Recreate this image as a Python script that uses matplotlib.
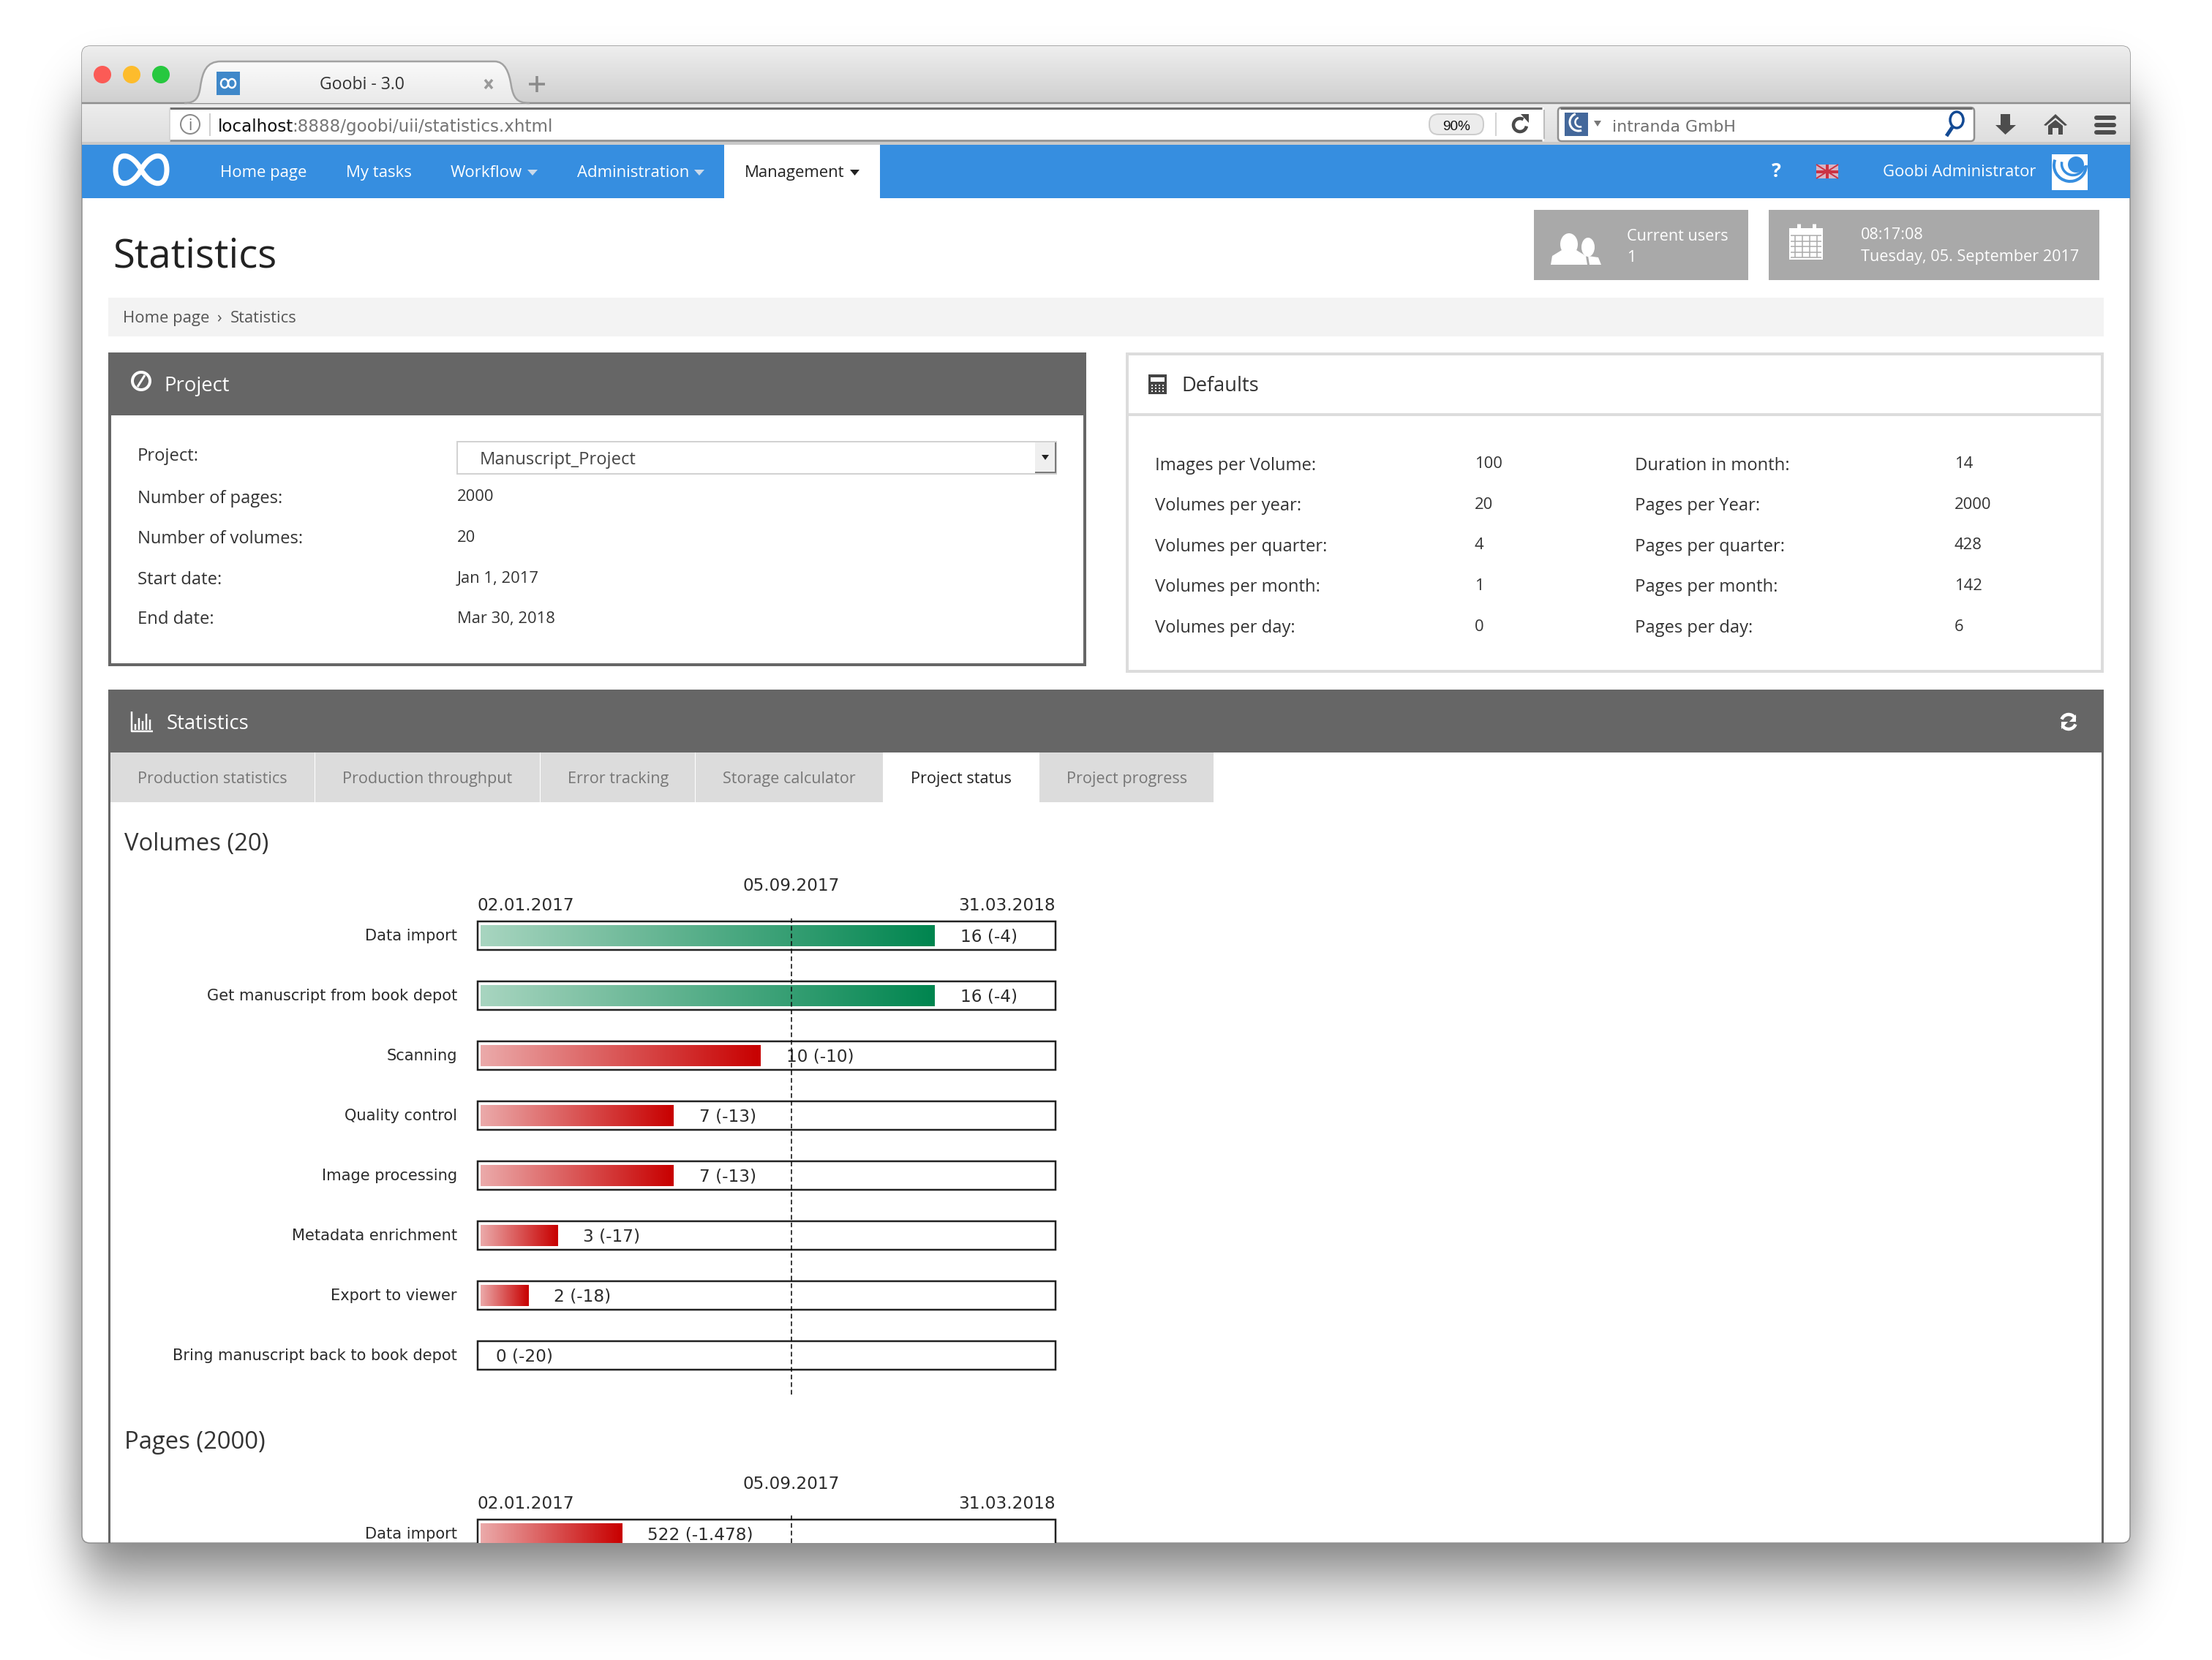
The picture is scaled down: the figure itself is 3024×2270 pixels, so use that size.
import math
from datetime import date

import numpy as np
import matplotlib
matplotlib.use("Agg")
import matplotlib.pyplot as plt
from matplotlib.colors import LinearSegmentedColormap
from matplotlib.patches import Rectangle, Circle, Ellipse, Polygon, FancyBboxPatch, PathPatch, Arc
from matplotlib.path import Path
from matplotlib.transforms import ScaledTranslation

plt.rcParams['font.family'] = ['Open Sans', 'DejaVu Sans']

# chart data
step_names = ['Data import', 'Get manuscript from book depot', 'Scanning', 'Quality control',
              'Image processing', 'Metadata enrichment', 'Export to viewer',
              'Bring manuscript back to book depot']
volumes_total = 20
volumes_done = [16, 16, 10, 7, 7, 3, 2, 0]
pages_total = 2000
pages_steps = ['Data import']
pages_done = [522]
start_date = date(2017, 1, 2)
today_date = date(2017, 9, 5)
end_date = date(2018, 3, 31)

# page text
nav_items = ['Home page', 'My tasks', 'Workflow', 'Administration']
tab_names = ['Production statistics', 'Production throughput', 'Error tracking',
             'Storage calculator', 'Project status', 'Project progress']
project_labels = ['Project:', 'Number of pages:', 'Number of volumes:', 'Start date:', 'End date:']
project_values = ['2000', '20', 'Jan 1, 2017', 'Mar 30, 2018']
defaults_left = ['Images per Volume:', 'Volumes per year:', 'Volumes per quarter:',
                 'Volumes per month:', 'Volumes per day:']
defaults_left_values = ['100', '20', '4', '1', '0']
defaults_right = ['Duration in month:', 'Pages per Year:', 'Pages per quarter:',
                  'Pages per month:', 'Pages per day:']
defaults_right_values = ['14', '2000', '428', '142', '6']

W, H = 3024, 2270
PT = 0.72  # one image pixel in points at dpi 100
BLUE = '#368ee0'
PANEL = '#666666'
DARK = '#333333'

fig = plt.figure(figsize=(W / 100, H / 100), dpi=100, facecolor='white')
ax = fig.add_axes([0, 0, 1, 1])
ax.axis('off')


def grad(x0, y0, x1, y1, colors, vertical=True, clip=None, zorder=1):
    cmap = LinearSegmentedColormap.from_list('g', colors)
    arr = np.linspace(0, 1, 256)
    arr = arr.reshape(-1, 1) if vertical else arr.reshape(1, -1)
    im = ax.imshow(arr, extent=(x0, x1, y1, y0), cmap=cmap, aspect='auto', zorder=zorder,
                   interpolation='bilinear')
    if clip is not None:
        im.set_clip_path(clip)
    return im


def rect(x0, y0, x1, y1, fc, ec='none', lw=0, zorder=2):
    ax.add_patch(Rectangle((x0, y0), x1 - x0, y1 - y0, fc=fc, ec=ec, lw=lw * PT, zorder=zorder))


def txt(x, y, s, px, color=DARK, ha='left', family=None, weight='normal', zorder=5):
    kw = {'family': family} if family else {}
    ax.text(x, y, s, fontsize=px * PT, color=color, ha=ha, va='baseline', weight=weight,
            zorder=zorder, **kw)


def line(xs, ys, color, lw, zorder=4, cap='butt', **kw):
    ax.plot(xs, ys, color=color, lw=lw * PT, zorder=zorder, solid_capstyle=cap, **kw)


def poly(pts, fc, zorder=4):
    ax.add_patch(Polygon(pts, closed=True, fc=fc, ec='none', zorder=zorder))


def ring(cx, cy, rx, ry, color, lw, zorder=4):
    ax.add_patch(Ellipse((cx, cy), 2 * rx, 2 * ry, fc='none', ec=color, lw=lw * PT, zorder=zorder))


def arc(cx, cy, d, t1, t2, color, lw, zorder=4):
    ax.add_patch(Arc((cx, cy), d, d, theta1=t1, theta2=t2, ec=color, lw=lw * PT, zorder=zorder))


# drop shadow of the browser window
xs = np.arange(W) + 0.5
ys = np.arange(H) + 0.5
verf = np.vectorize(math.erf)
fx = 0.5 * (verf((xs - 112) / 45) - verf((xs - 2912) / 45))
fy = 0.5 * (verf((ys - 140) / 60) - verf((ys - 2150) / 70))
shadow = np.zeros((H, W, 4))
shadow[..., 3] = 0.56 * np.outer(fy, fx)
ax.imshow(shadow, extent=(0, W, H, 0), aspect='auto', zorder=0)

# window
window = FancyBboxPatch((112, 63), 2800, 2047, boxstyle='round,pad=0,rounding_size=11',
                        fc='white', ec='#8f8f8f', lw=1.5 * PT, zorder=1)
ax.add_patch(window)
grad(112, 63, 2912, 141, ['#eeeeee', '#cfcfcf'], clip=window, zorder=1.1)
grad(112, 141, 2912, 198, ['#ededed', '#dddddd'], clip=window, zorder=1.1)
rect(112, 194, 2912, 198, '#c9c9c9', zorder=1.2)
line([112, 2912], [141, 141], '#8e8e8e', 2.5, zorder=1.3)

# traffic lights
for cx, col in zip([140, 180, 220], ['#fb5b56', '#fdbc2c', '#27c83f']):
    ax.add_patch(Circle((cx, 102), 12, fc=col, ec='none', zorder=3))

# browser tab
tab_path = Path([(252, 141), (268, 141), (272, 133), (274, 118), (277, 98), (282, 84), (302, 84),
                 (676, 84), (690, 84), (696, 98), (699, 118), (702, 133), (706, 141), (724, 141)],
                [Path.MOVETO] + [Path.CURVE4] * 6 + [Path.LINETO] + [Path.CURVE4] * 6)
tab_patch = PathPatch(tab_path, fc='#eeeeee', ec='none', zorder=2)
ax.add_patch(tab_patch)
grad(250, 84, 726, 142, ['#fafafa', '#e9e9e9'], clip=tab_patch, zorder=2.1)
ax.add_patch(PathPatch(tab_path, fc='none', ec='#a2a2a2', lw=2.5 * PT, zorder=2.2))
rect(296, 98, 328, 130, '#3f88c9', zorder=3)
ring(307, 114, 5, 6, 'white', 2.5)
ring(317, 114, 5, 6, 'white', 2.5)
txt(495, 122, 'Goobi - 3.0', 23, '#333333', ha='center')
line([663, 673], [109, 121], '#9a9a9a', 3.5)
line([673, 663], [109, 121], '#9a9a9a', 3.5)
line([734, 734], [104, 126], '#8a8a8a', 3.5)
line([723, 745], [115, 115], '#8a8a8a', 3.5)

# address bar
rect(232, 147, 2111, 193, 'white', zorder=2)
line([232, 2108], [148, 148], '#6f6f6f', 3)
line([232, 2108], [192, 192], '#989898', 3)
line([2111, 2111], [150, 190], '#bdbdbd', 2)
line([232, 232], [148, 192], '#d0d0d0', 1.5)
ring(260, 170, 13, 13, '#8a8a8a', 2)
txt(260, 178, 'i', 21, '#777777', ha='center')
line([287, 287], [155, 186], '#cfcfcf', 2)
txt(298, 180, 'localhost', 23, '#111111', family='DejaVu Sans')
txt(399, 180, ':8888/goobi/uii/statistics.xhtml', 23, '#757575', family='DejaVu Sans')
ax.add_patch(FancyBboxPatch((1954, 156), 74, 28, boxstyle='round,pad=0,rounding_size=13',
                            fc='#ececec', ec='#cccccc', lw=2 * PT, zorder=3))
txt(1991, 178, '90%', 19, '#111111', ha='center', family='Liberation Sans')
line([2045, 2045], [154, 186], '#d3d3d3', 2)
arc(2078, 171, 18, 10, 300, '#4a4a4a', 4.5)
poly([(2079, 156), (2090, 156), (2090, 168)], '#4a4a4a')

# search box
ax.add_patch(FancyBboxPatch((2130, 147), 569, 46, boxstyle='round,pad=0,rounding_size=5',
                            fc='white', ec='#8f8f8f', lw=2.5 * PT, zorder=2))
line([2133, 2696], [148, 148], '#6f6f6f', 3)
rect(2139, 154, 2171, 186, '#44689b', zorder=3)
arc(2158, 167, 24, 70, 250, 'white', 3)
arc(2160, 167, 13, 70, 250, 'white', 2.5)
poly([(2179, 165), (2189, 165), (2184, 173)], '#777777')
txt(2204, 180, 'intranda GmbH', 22, '#6f6f6f', family='DejaVu Sans')
ring(2675, 164, 9, 11, '#134a94', 3.5)
line([2669, 2661], [174, 186], '#134a94', 5)

# toolbar icons
poly([(2735, 156), (2748, 156), (2748, 171), (2756, 171), (2741.5, 184), (2728, 171), (2735, 171)], '#4d4d4d')
poly([(2794, 171), (2810, 156), (2826, 171), (2823, 172), (2810, 161), (2797, 172)], '#4d4d4d')
poly([(2800, 184), (2800, 172), (2810, 164), (2820, 172), (2820, 184), (2814, 184), (2814, 175),
      (2806, 175), (2806, 184)], '#4d4d4d')
for y in [161, 171, 181]:
    line([2866, 2890], [y, y], '#4d4d4d', 6, cap='round')

# navigation bar
rect(112, 198, 2912, 271, BLUE, zorder=2)
rect(990, 198, 1203, 271, 'white', zorder=3)
logo = Path([(193, 232), (207, 207), (228, 207), (228, 232), (228, 257), (207, 257), (193, 232),
             (179, 207), (158, 207), (158, 232), (158, 257), (179, 257), (193, 232)],
            [Path.MOVETO] + [Path.CURVE4] * 12)
ax.add_patch(PathPatch(logo, fc='none', ec='white', lw=7 * PT, zorder=4))
for name, x in zip(nav_items, [301, 473, 616, 789]):
    txt(x, 242, name, 22.2, 'white')
poly([(721, 232), (735, 232), (728, 240)], '#c9d9ea')
poly([(949, 232), (963, 232), (956, 240)], '#c9d9ea')
txt(1018, 242, 'Management', 22.2, '#222222')
poly([(1162, 232), (1175, 232), (1168.5, 240)], '#222222')
txt(2428, 242, '?', 27, 'white', ha='center', weight='bold')
rect(2483, 225, 2513, 244, '#d8b4c4', zorder=3)
line([2483, 2513], [225, 244], '#cc3344', 2)
line([2513, 2483], [225, 244], '#cc3344', 2)
line([2498, 2498], [225, 244], '#cc3344', 4)
line([2483, 2513], [234.5, 234.5], '#cc3344', 4)
txt(2574, 241, 'Goobi Administrator', 22, 'white')
rect(2805, 211, 2854, 260, 'white', zorder=3)
ax.add_patch(Circle((2838, 225), 11, fc=BLUE, ec='none', zorder=4))
arc(2834, 224, 31, 10, 190, BLUE, 3.5)
arc(2830, 226, 44, 0, 200, BLUE, 4)

# page heading and info boxes
txt(154, 366, 'Statistics', 54.5, '#222222')
rect(2097, 287, 2390, 383, '#a9a9a9')
rect(2418, 287, 2870, 383, '#a9a9a9')
ax.add_patch(Ellipse((2145, 334), 24, 30, fc='white', ec='none', zorder=4))
poly([(2120, 362), (2122, 350), (2135, 342), (2155, 342), (2168, 350), (2170, 362)], 'white')
ax.add_patch(Ellipse((2171, 338), 18, 26, fc='white', ec='none', zorder=4))
poly([(2171, 350), (2185, 352), (2189, 362), (2173, 362)], 'white')
txt(2224, 329, 'Current users', 21.7, 'white')
txt(2224, 358, '1', 21.7, 'white')
rect(2446, 312, 2492, 355, 'white', zorder=4)
for x in np.linspace(2454, 2484, 4):
    line([x, x], [322, 352], '#a9a9a9', 1.5, zorder=4.5)
for y in np.linspace(322, 352, 5):
    line([2448, 2490], [y, y], '#a9a9a9', 1.5, zorder=4.5)
line([2459, 2459], [306, 316], 'white', 5)
line([2480, 2480], [306, 316], 'white', 5)
txt(2544, 327, '08:17:08', 21.7, 'white')
txt(2544, 357, 'Tuesday, 05. September 2017', 21.7, 'white')

# breadcrumb
rect(148, 407, 2876, 460, '#f3f3f3')
txt(168, 441, 'Home page', 22.2, '#555555')
txt(296, 441, '›', 22.2, '#555555')
txt(315, 441, 'Statistics', 22, '#555555')

# project panel
rect(150, 484, 1483, 909, 'white', ec=PANEL, lw=4)
rect(148, 482, 1485, 568, PANEL)
ring(193, 521, 12, 12, 'white', 4)
line([188, 198], [529, 513], 'white', 3)
txt(224, 535, 'Project', 27.5, 'white')
for label, y in zip(project_labels, [630, 688, 743, 799, 853]):
    txt(188, y, label, 23.7, '#333333')
for value, y in zip(project_values, [685, 741, 797, 852]):
    txt(625, y, value, 22, '#333333')
rect(625, 604, 1444, 648, 'white', ec='#d2d2d2', lw=2)
rect(1415, 605, 1443, 647, '#efefef', zorder=3)
line([1443, 1443], [605, 647], '#7a7a7a', 2)
line([1415, 1443], [646, 646], '#7a7a7a', 2)
poly([(1424, 622), (1434, 622), (1429, 629)], '#222222')
txt(656, 635, 'Manuscript_Project', 23.8, '#444444')

# defaults panel
rect(1541, 484, 2874, 918, 'white', ec='#dcdcdc', lw=4)
line([1541, 2874], [567, 567], '#dcdcdc', 4)
rect(1570, 512, 1595, 539, '#444444', zorder=4)
rect(1573, 516, 1592, 522, 'white', zorder=4.5)
for gx in np.linspace(1575, 1590, 4):
    for gy in [527, 531, 535]:
        rect(gx - 1.2, gy - 1.2, gx + 1.2, gy + 1.2, 'white', zorder=4.5)
txt(1615, 535, 'Defaults', 27.3, '#333333')
for label, value, yl, yv in zip(defaults_left, defaults_left_values,
                                [643, 698, 754, 809, 865], [640, 696, 751, 807, 863]):
    txt(1579, yl, label, 23.7, '#333333')
    txt(2016, yv, value, 22, '#333333')
for label, value, yl, yv in zip(defaults_right, defaults_right_values,
                                [643, 698, 754, 809, 865], [640, 696, 751, 807, 863]):
    txt(2235, yl, label, 23.7, '#333333')
    txt(2672, yv, value, 22, '#333333')

# statistics panel
rect(148, 1029, 151, 2110, PANEL)
rect(2873, 1029, 2876, 2110, PANEL)
rect(148, 943, 2876, 1029, PANEL)
line([180, 180, 209], [973, 1000, 1000], 'white', 2.5)
for x, top in zip([185, 190, 195, 200, 205], [990, 982, 986, 976, 984]):
    line([x, x], [top, 998], 'white', 2.5)
txt(228, 997, 'Statistics', 27.5, 'white')
arc(2828, 987, 20, 200, 330, 'white', 4.5)
arc(2828, 987, 20, 20, 150, 'white', 4.5)
poly([(2838, 977), (2838, 987), (2829, 987)], 'white')
poly([(2818, 997), (2818, 987), (2827, 987)], 'white')

tab_edges = [(151, 430), (431, 738), (739, 950), (951, 1207), (1207, 1421), (1421, 1659)]
tab_text_x = [188, 468, 776, 988, 1245, 1458]
for name, (x0, x1), tx in zip(tab_names, tab_edges, tab_text_x):
    active = name == 'Project status'
    if not active:
        rect(x0, 1029, x1, 1097, '#dcdcdc')
    txt(tx, 1071, name, 21.7, '#222222' if active else '#777777')

txt(170, 1163, 'Volumes (20)', 32.8, '#333333')
txt(170, 1981, 'Pages (2000)', 32.8, '#333333')

ax.set_xlim(0, W)
ax.set_ylim(H, 0)

# chart scale: share of the total mapped onto pixels of the page
ZERO_PX = 643.0
FULL_PX = 793.4
BOX_L, BOX_R = 653, 1443
BAR_L = 657
ROW = 82.0
LABEL_PX = 21.0
VALUE_PX = 23.1


def share(px):
    return (px - ZERO_PX) / FULL_PX


def status_chart(top_px, bottom_px, first_row_px, steps, done, total):
    a = fig.add_axes([640 / W, 1 - bottom_px / H, (1450 - 640) / W, (bottom_px - top_px) / H],
                     zorder=5)
    a.patch.set_visible(False)
    for s in a.spines.values():
        s.set_visible(False)
    y = np.arange(len(steps))
    fraction_today = (today_date - start_date).days / (end_date - start_date).days
    today_x = share(BOX_L + fraction_today * (BOX_R - BOX_L))
    a.barh(y, share(BOX_R) - share(BOX_L), left=share(BOX_L), height=39 / ROW, fc='white',
           ec='#222222', lw=2.5 * PT, zorder=1)
    shares = [d / total for d in done]
    bars = a.barh(y, [max(s - share(BAR_L), 0) for s in shares], left=share(BAR_L),
                  height=29 / ROW, fc='none', ec='none', zorder=2)
    for s, bar in zip(shares, bars):
        if s <= share(BAR_L):
            continue
        ok = s >= fraction_today
        cols = ['#a8d5c0', '#00854f'] if ok else ['#ebaaaa', '#c80000']
        cmap = LinearSegmentedColormap.from_list('bar', cols)
        a.imshow(np.linspace(0, 1, 256).reshape(1, -1), cmap=cmap, aspect='auto', zorder=2,
                 interpolation='bilinear',
                 extent=(bar.get_x(), bar.get_x() + bar.get_width(),
                         bar.get_y() + bar.get_height(), bar.get_y()))
    for i, (d, s) in enumerate(zip(done, shares)):
        missing = f'{d - total:,}'.replace(',', '.')
        a.annotate(f'{d} ({missing})', xy=(s, i), xytext=(35 * PT, 1.5 * PT), textcoords='offset points',
                   va='center_baseline', ha='left', fontsize=VALUE_PX * PT, color='#2b2b2b',
                   family='DejaVu Sans', zorder=3)
    a.axvline(today_x, color='#111111', lw=1.6 * PT, ls=(0, (4, 2.5)), zorder=4)
    a.set_xlim(share(640), share(1450))
    a.set_ylim((bottom_px - first_row_px) / ROW, (top_px - first_row_px) / ROW)
    a.set_xticks([])
    a.set_yticks(y, steps, family='DejaVu Sans', fontsize=LABEL_PX * PT, color='#2b2b2b')
    a.tick_params(axis='y', length=0, pad=15 * PT)
    lift = ScaledTranslation(0, 1.5 / 100, fig.dpi_scale_trans)
    for tick in a.get_yticklabels():
        tick.set_transform(tick.get_transform() + lift)
    for when, xval, dy, ha in [(start_date, share(BOX_L), 43.5, 'left'), (today_date, today_x, 70, 'center'),
                               (end_date, share(BOX_R), 43.5, 'right')]:
        a.annotate(when.strftime('%d.%m.%Y'), xy=(xval, 0), xytext=(0, dy * PT),
                   textcoords='offset points', va='center_baseline', ha=ha, fontsize=VALUE_PX * PT,
                   color='#2b2b2b', family='DejaVu Sans', annotation_clip=False)
    return a


status_chart(1254, 1907, 1279.5, step_names, volumes_done, volumes_total)
status_chart(2072, 2110, 2097.5, pages_steps, pages_done, pages_total)

fig.savefig('out.png', dpi=100, facecolor='white')
